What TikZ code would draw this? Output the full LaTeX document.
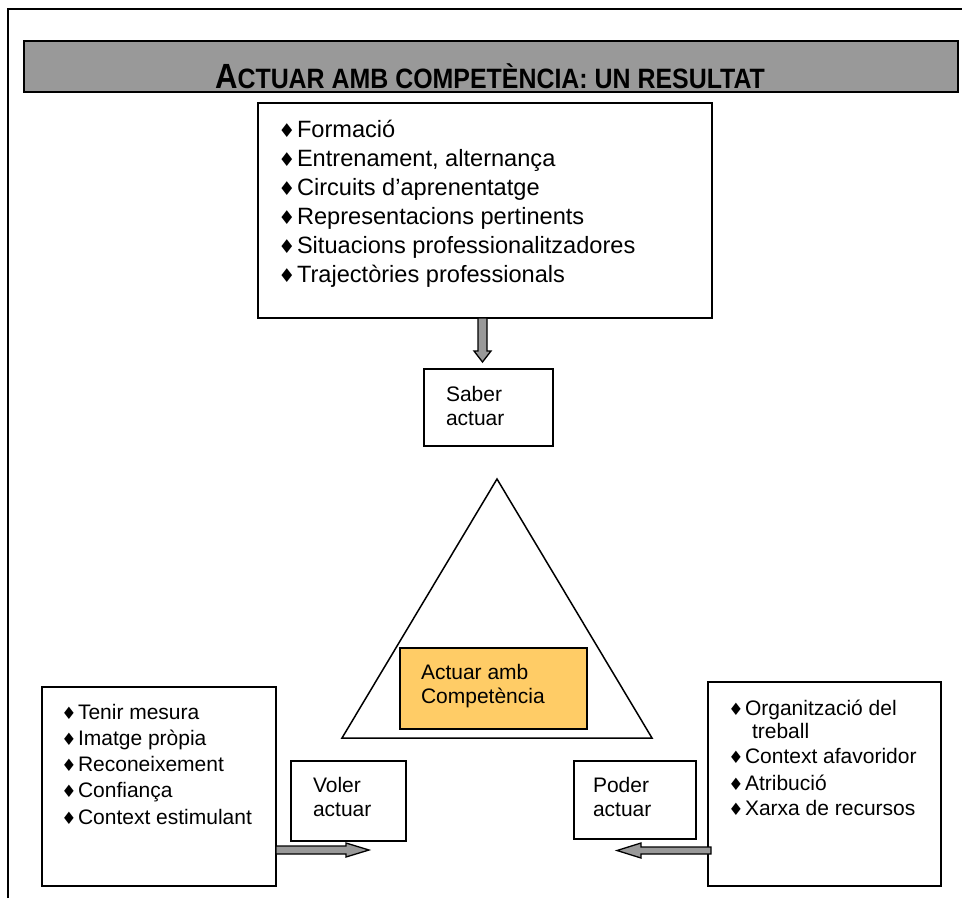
\documentclass[tikz,border=0pt]{standalone}
\usepackage{fontspec}
\usepackage{graphicx}
\setmainfont{Liberation Sans}
\newfontfamily\symfont{DejaVu Sans}
\usetikzlibrary{calc}

\definecolor{bargray}{HTML}{999999}
\definecolor{coreorange}{HTML}{FFCC66}

% diamond bullet hung to the left of a list line
\newcommand{\dmd}[1]{{\symfont\fontsize{#1}{#1}\selectfont ♦}}
\newcommand{\itemA}[1]{\llap{\dmd{19}\kern1.5pt}#1}
\newcommand{\itemB}[1]{\llap{\dmd{17}\kern1.5pt}#1}

\tikzset{
  frameline/.style={line width=1.6pt},
  box/.style={draw, line width=1.5pt, inner sep=0pt, outer sep=0pt, fill=white},
  txt/.style={anchor=base west, inner sep=0pt, outer sep=0pt},
  bigtxt/.style={txt, font=\fontsize{23.6}{28}\selectfont},
  smtxt/.style={txt, font=\fontsize{21}{25}\selectfont},
  blockarrow/.style={draw, fill=bargray, line width=1.3pt, line join=miter},
  triline/.style={draw, line width=1.5pt, line join=miter},
}

% block arrows: #1 start point, #2 tip; shaft half width, head half width, head length
\newcommand{\downarrowblock}[5]{%
  \draw[blockarrow] let \p1=(#1), \p2=(#2) in
    (\x2-#3,\y1) -- (\x2-#3,\y2+#5) -- (\x2-#4,\y2+#5) -- (\x2,\y2)
    -- (\x2+#4,\y2+#5) -- (\x2+#3,\y2+#5) -- (\x2+#3,\y1) -- cycle;}
\newcommand{\rightarrowblock}[5]{%
  \draw[blockarrow] let \p1=(#1), \p2=(#2) in
    (\x1,\y2+#3) -- (\x2-#5,\y2+#3) -- (\x2-#5,\y2+#4) -- (\x2,\y2)
    -- (\x2-#5,\y2-#4) -- (\x2-#5,\y2-#3) -- (\x1,\y2-#3) -- cycle;}
\newcommand{\leftarrowblock}[5]{%
  \draw[blockarrow] let \p1=(#1), \p2=(#2) in
    (\x1,\y2+#3) -- (\x2+#5,\y2+#3) -- (\x2+#5,\y2+#4) -- (\x2,\y2)
    -- (\x2+#5,\y2-#4) -- (\x2+#5,\y2-#3) -- (\x1,\y2-#3) -- cycle;}

\begin{document}
\begin{tikzpicture}[x=1pt, y=-1pt]
\useasboundingbox (0,0) rectangle (962,898);

% page frame (top and left rules)
\draw[frameline] (8,898) -- (8,9) -- (962,9);

% title bar
\node[box, fill=bargray, minimum width=934pt, minimum height=51pt] (bar) at (491,66.5) {};
\node[anchor=base, inner sep=0pt] (title) at (490,88)
  {\scalebox{0.89}[1]{\bfseries\fontsize{35}{35}\selectfont A\fontsize{28}{28}\selectfont CTUAR AMB COMPETÈNCIA: UN RESULTAT}};

% training box
\node[box, minimum width=454pt, minimum height=215pt] (train) at (485,210.5) {};
\node[bigtxt] (t1) at (297,137.5) {\itemA{Formació}};
\node[bigtxt] (t2) at (297,166.5) {\itemA{Entrenament, alternança}};
\node[bigtxt] (t3) at (297,195.5) {\itemA{Circuits d’aprenentatge}};
\node[bigtxt] (t4) at (297,224.5) {\itemA{Representacions pertinents}};
\node[bigtxt] (t5) at (297,253.5) {\itemA{Situacions professionalitzadores}};
\node[bigtxt] (t6) at (297,282.5) {\itemA{Trajectòries professionals}};

% saber actuar
\node[box, minimum width=129pt, minimum height=77pt] (saber) at (488.5,407.5) {};
\node[smtxt] (s1) at (446,401.5) {Saber};
\node[smtxt] (s2) at (446,425) {actuar};

% arrow from training box down to saber actuar
\coordinate (dstart) at ($(train.south)+(-2.5,0)$);
\coordinate (dtip) at ($(saber.north)+(-6,-7)$);
\downarrowblock{dstart}{dtip}{4.5pt}{8.5pt}{11pt}

% triangle
\coordinate (apex) at (497,479);
\coordinate (bright) at (652,738);
\coordinate (bleft) at (342,738);
\draw[triline] (apex) -- (bright) -- (bleft) -- cycle;

% core box
\node[box, fill=coreorange, minimum width=187pt, minimum height=81pt] (core) at (493.5,688.5) {};
\node[smtxt] (c1) at (421,679) {Actuar amb};
\node[smtxt] (c2) at (421,703) {Competència};

% motivation box
\node[box, minimum width=234pt, minimum height=199pt] (motiv) at (159,786.5) {};
\node[smtxt] (m1) at (78,719.5) {\itemB{Tenir mesura}};
\node[smtxt] (m2) at (78,745.5) {\itemB{Imatge pròpia}};
\node[smtxt] (m3) at (78,771.5) {\itemB{Reconeixement}};
\node[smtxt] (m4) at (78,797.5) {\itemB{Confiança}};
\node[smtxt] (m5) at (78,824) {\itemB{Context estimulant}};

% voler actuar
\node[box, minimum width=115pt, minimum height=80pt] (voler) at (348.5,801) {};
\node[smtxt] (v1) at (313,792.5) {Voler};
\node[smtxt] (v2) at (313,816) {actuar};

% context box
\node[box, minimum width=233pt, minimum height=204pt] (ctx) at (824.5,784) {};
\node[smtxt] (r1) at (745,715) {\itemB{Organització del}};
\node[smtxt] (r2) at (752,738.5) {treball};
\node[smtxt] (r3) at (745,763.5) {\itemB{Context afavoridor}};
\node[smtxt] (r4) at (745,790) {\itemB{Atribució}};
\node[smtxt] (r5) at (745,815.5) {\itemB{Xarxa de recursos}};

% poder actuar
\node[box, minimum width=122pt, minimum height=78pt] (poder) at (635,800) {};
\node[smtxt] (p1) at (593,792.5) {Poder};
\node[smtxt] (p2) at (593,816) {actuar};

% side arrows
\coordinate (vtip) at ($(voler.south west)+(78,9)$);
\coordinate (vstart) at (motiv.east |- vtip);
\rightarrowblock{vstart}{vtip}{4pt}{7pt}{23pt}

\coordinate (ptip) at ($(poder.south west)+(43,11.5)$);
\coordinate (pstart) at ($(ctx.west |- ptip)+(3,0)$);
\leftarrowblock{pstart}{ptip}{3.5pt}{7.5pt}{24pt}

\end{tikzpicture}
\end{document}
